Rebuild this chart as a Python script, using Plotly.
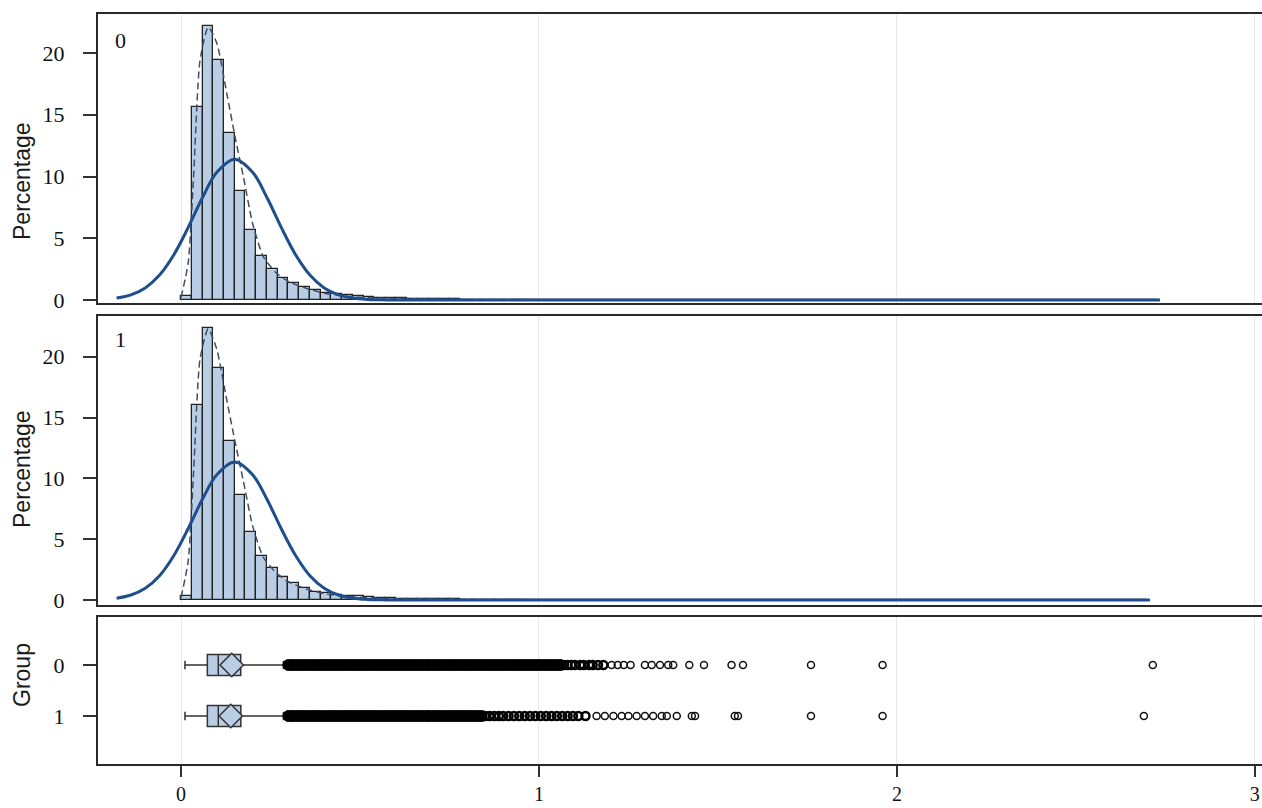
import plotly.graph_objects as go

# ---------------- data ----------------
BIN_START = 0.0
BIN_WIDTH = 0.03
hist_g0 = [0.3, 15.6, 22.2, 19.4, 13.5, 8.8, 5.7, 3.6, 2.5, 1.8, 1.4, 1.05, 0.8, 0.6,
           0.5, 0.4, 0.32, 0.25, 0.2, 0.16, 0.13, 0.1, 0.08, 0.07, 0.06, 0.05, 0.04,
           0.035, 0.03, 0.025, 0.02, 0.02, 0.015, 0.015, 0.01, 0.01, 0.01, 0.008, 0.006,
           0.005, 0.004, 0.003, 0.003, 0.003, 0.002, 0.002, 0.002, 0.002, 0.002, 0.002,
           0.002, 0.002, 0.002, 0.002, 0.002, 0.002, 0.002, 0.002, 0.002, 0.002, 0.002,
           0.002, 0.002, 0.002, 0.002, 0.002, 0.002, 0.002, 0.002, 0.002, 0.002, 0.002,
           0.002, 0.002, 0.002, 0.002, 0.002, 0.002, 0.002, 0.002, 0.002, 0.002, 0.002,
           0.002, 0.002, 0.002, 0.002, 0.002, 0.002, 0.002, 0.002]
hist_g1 = [0.3, 16.0, 22.4, 19.1, 13.1, 8.6, 5.6, 3.6, 2.6, 1.9, 1.4, 1.0, 0.7, 0.55,
           0.45, 0.37, 0.3, 0.24, 0.19, 0.15, 0.12, 0.1, 0.08, 0.07, 0.06, 0.05, 0.04,
           0.035, 0.03, 0.025, 0.02, 0.02, 0.015, 0.015, 0.01, 0.01, 0.01, 0.008, 0.006,
           0.005, 0.004, 0.003, 0.003, 0.003, 0.002, 0.002, 0.002, 0.002, 0.002, 0.002,
           0.002, 0.002, 0.002, 0.002, 0.002, 0.002, 0.002, 0.002, 0.002, 0.002, 0.002,
           0.002, 0.002, 0.002, 0.002, 0.002, 0.002, 0.002, 0.002, 0.002, 0.002, 0.002,
           0.002, 0.002, 0.002, 0.002, 0.002, 0.002, 0.002, 0.002, 0.002, 0.002, 0.002,
           0.002, 0.002, 0.002, 0.002, 0.002, 0.002, 0.002]

# fitted normal curves
normal_x_g0 = [-0.18, -0.14, -0.10, -0.06, -0.02, 0.02, 0.06, 0.10, 0.15, 0.20, 0.24,
               0.28, 0.32, 0.36, 0.40, 0.44, 0.48, 0.52, 0.56, 0.60, 0.70, 1.0, 2.735]
normal_y_g0 = [0.16, 0.42, 0.98, 2.02, 3.67, 5.88, 8.3, 10.34, 11.4, 10.34, 8.3,
               5.88, 3.67, 2.02, 0.98, 0.42, 0.16, 0.05, 0.015, 0.0, 0.0, 0.0, 0.0]
normal_x_g1 = [-0.18, -0.14, -0.10, -0.06, -0.02, 0.02, 0.06, 0.10, 0.15, 0.20, 0.24,
               0.28, 0.32, 0.36, 0.40, 0.44, 0.48, 0.52, 0.56, 0.60, 0.70, 1.0, 2.707]
normal_y_g1 = [0.15, 0.41, 0.97, 2.0, 3.66, 5.88, 8.3, 10.3, 11.35, 10.3, 8.28,
               5.86, 3.66, 2.0, 0.97, 0.41, 0.15, 0.05, 0.015, 0.0, 0.0, 0.0, 0.0]

# kernel density curves (dashed)
kde_x_g0 = [0.0, 0.02, 0.035, 0.053, 0.076, 0.1, 0.128, 0.151, 0.174, 0.2, 0.23,
            0.267, 0.3, 0.35, 0.4, 0.45, 0.5, 0.6, 0.8, 1.0, 1.3, 1.7, 2.0, 2.735]
kde_y_g0 = [0.2, 3.0, 10.0, 19.4, 22.1, 20.8, 16.7, 13.2, 10.0, 6.2, 3.5,
            2.16, 1.5, 0.95, 0.55, 0.35, 0.22, 0.12, 0.05, 0.03, 0.01, 0.005, 0.003, 0.0]
kde_x_g1 = [0.0, 0.02, 0.035, 0.053, 0.076, 0.1, 0.128, 0.151, 0.174, 0.2, 0.23,
            0.267, 0.3, 0.35, 0.4, 0.45, 0.5, 0.6, 0.8, 1.0, 1.3, 1.7, 2.0, 2.707]
kde_y_g1 = [0.2, 3.2, 10.5, 19.8, 22.3, 20.6, 16.4, 13.0, 9.8, 6.1, 3.5,
            2.2, 1.5, 0.9, 0.52, 0.33, 0.21, 0.11, 0.05, 0.03, 0.01, 0.005, 0.003, 0.0]

# box plot statistics per group
groups = [0, 1]
box_lowerfence = [0.011, 0.011]
box_q1 = [0.0735, 0.0735]
box_median = [0.104, 0.104]
box_q3 = [0.1667, 0.167]
box_upperfence = [0.286, 0.286]
box_mean = [0.1416, 0.139]

# outliers (dense run, looser run, isolated points)
out_dense_g0 = [0.30, 0.31, 0.32, 0.33, 0.34, 0.35, 0.36, 0.37, 0.38, 0.39, 0.40, 0.41,
                0.42, 0.43, 0.44, 0.45, 0.46, 0.47, 0.48, 0.49, 0.50, 0.51, 0.52, 0.53,
                0.54, 0.55, 0.56, 0.57, 0.58, 0.59, 0.60, 0.61, 0.62, 0.63, 0.64, 0.65,
                0.66, 0.67, 0.68, 0.69, 0.70, 0.71, 0.72, 0.73, 0.74, 0.75, 0.76, 0.77,
                0.78, 0.79, 0.80, 0.81, 0.82, 0.83, 0.84, 0.85, 0.86, 0.87, 0.88, 0.89,
                0.90, 0.91, 0.92, 0.93, 0.94, 0.95, 0.96, 0.97, 0.98, 0.99, 1.00, 1.01,
                1.02, 1.03, 1.04, 1.05, 1.06]
out_loose_g0 = [1.07, 1.08, 1.09, 1.10, 1.115, 1.125, 1.14, 1.15, 1.165, 1.18]
out_single_g0 = [1.203, 1.22, 1.237, 1.256, 1.296, 1.315, 1.338, 1.361, 1.375, 1.42,
                 1.461, 1.538, 1.57, 1.76, 1.96, 2.715]
out_dense_g1 = [0.30, 0.31, 0.32, 0.33, 0.34, 0.35, 0.36, 0.37, 0.38, 0.39, 0.40, 0.41,
                0.42, 0.43, 0.44, 0.45, 0.46, 0.47, 0.48, 0.49, 0.50, 0.51, 0.52, 0.53,
                0.54, 0.55, 0.56, 0.57, 0.58, 0.59, 0.60, 0.61, 0.62, 0.63, 0.64, 0.65,
                0.66, 0.67, 0.68, 0.69, 0.70, 0.71, 0.72, 0.73, 0.74, 0.75, 0.76, 0.77,
                0.78, 0.79, 0.80, 0.81, 0.82, 0.83, 0.84]
out_loose_g1 = [0.85, 0.862, 0.875, 0.888, 0.90, 0.915, 0.93, 0.945, 0.96, 0.975, 0.99,
                1.005, 1.02, 1.035, 1.05, 1.065, 1.08, 1.095, 1.11, 1.13]
out_single_g1 = [1.161, 1.184, 1.208, 1.231, 1.25, 1.273, 1.296, 1.319, 1.343, 1.357,
                 1.385, 1.427, 1.436, 1.547, 1.556, 1.76, 1.96, 2.69]

x_ticks = [0, 1, 2, 3]
pct_ticks = [0, 5, 10, 15, 20]
panel_labels = ["0", "1"]

# ---------------- styling ----------------
W, H = 1262, 808
BAR_FILL = "#b9cde5"
DARK = "#222222"
NORMAL_C = "#1f4e8c"
KDE_C = "#3d4f6b"
GRID = "#e8e8e8"
FRAME = "#2a2a2a"
TICK_FONT = dict(family="Liberation Serif, serif", size=22, color="#111111")
XTICK_FONT = dict(family="Liberation Serif, serif", size=20, color="#111111")
TITLE_FONT = dict(family="Liberation Sans, Arial, sans-serif", size=23, color="#1a1a1a")

X_RANGE = [-0.232, 3.02]
XDOM = [98 / W, 1.0]


def ydom(top_px, bot_px):
    return [1 - bot_px / H, 1 - top_px / H]


fig = go.Figure()

for i, (hist, nx, ny, kx, ky) in enumerate([
        (hist_g0, normal_x_g0, normal_y_g0, kde_x_g0, kde_y_g0),
        (hist_g1, normal_x_g1, normal_y_g1, kde_x_g1, kde_y_g1)]):
    xa = "x" if i == 0 else "x2"
    ya = "y" if i == 0 else "y2"
    fig.add_trace(go.Bar(x0=BIN_START + BIN_WIDTH / 2, dx=BIN_WIDTH, y=hist, width=BIN_WIDTH,
                         marker=dict(color=BAR_FILL, line=dict(color=DARK, width=1.3)),
                         xaxis=xa, yaxis=ya, showlegend=False, hoverinfo="skip"))
    fig.add_trace(go.Scatter(x=kx, y=ky, mode="lines",
                             line=dict(color=KDE_C, width=1.5, dash="7px,4px", shape="spline",
                                       smoothing=0.6),
                             xaxis=xa, yaxis=ya, showlegend=False, hoverinfo="skip"))
    fig.add_trace(go.Scatter(x=nx, y=ny, mode="lines",
                             line=dict(color=NORMAL_C, width=3, shape="spline", smoothing=1.0),
                             xaxis=xa, yaxis=ya, showlegend=False, hoverinfo="skip"))

# box plots
for g in range(2):
    fig.add_trace(go.Box(orientation="h", y=[groups[g]], q1=[box_q1[g]], median=[box_median[g]],
                         q3=[box_q3[g]], lowerfence=[box_lowerfence[g]],
                         upperfence=[box_upperfence[g]], width=0.41, whiskerwidth=0.4,
                         fillcolor=BAR_FILL, line=dict(color="#333333", width=1.5),
                         boxpoints=False, xaxis="x3", yaxis="y3", showlegend=False,
                         hoverinfo="skip"))

# mean diamonds
fig.add_trace(go.Scatter(x=box_mean, y=groups, mode="markers",
                         marker=dict(symbol="diamond", size=18, color=BAR_FILL,
                                     line=dict(color="#333333", width=1.5)),
                         xaxis="x3", yaxis="y3", showlegend=False, hoverinfo="skip"))

# outliers
for g, (dense, loose, single) in enumerate([(out_dense_g0, out_loose_g0, out_single_g0),
                                            (out_dense_g1, out_loose_g1, out_single_g1)]):
    fig.add_trace(go.Scatter(x=dense, y=[groups[g]] * len(dense), mode="markers",
                             marker=dict(symbol="circle", size=11, color="#000000",
                                         line=dict(width=1, color="#000000")),
                             xaxis="x3", yaxis="y3", showlegend=False, hoverinfo="skip"))
    fig.add_trace(go.Scatter(x=loose, y=[groups[g]] * len(loose), mode="markers",
                             marker=dict(symbol="circle-open", size=8, color="#000000",
                                         line=dict(width=2.5)),
                             xaxis="x3", yaxis="y3", showlegend=False, hoverinfo="skip"))
    fig.add_trace(go.Scatter(x=single, y=[groups[g]] * len(single), mode="markers",
                             marker=dict(symbol="circle-open", size=7, color="#111111",
                                         line=dict(width=1.5)),
                             xaxis="x3", yaxis="y3", showlegend=False, hoverinfo="skip"))

common_x = dict(range=X_RANGE, domain=XDOM, showgrid=True, gridcolor=GRID, gridwidth=1,
                tickvals=x_ticks, zeroline=False, showline=True, mirror=True,
                linecolor=FRAME, linewidth=2, automargin=False)
common_y = dict(showgrid=False, zeroline=False, showline=True, mirror=True,
                linecolor=FRAME, linewidth=2, ticks="outside", ticklen=13, tickwidth=2,
                tickcolor="#333333", tickfont=TICK_FONT, automargin=False,
                ticklabelstandoff=14)

fig.update_layout(
    width=W, height=H,
    margin=dict(l=0, r=0, t=0, b=0),
    paper_bgcolor="white", plot_bgcolor="white",
    bargap=0, barmode="overlay",
    xaxis=dict(**common_x, anchor="y", showticklabels=False, ticks=""),
    xaxis2=dict(**common_x, anchor="y2", showticklabels=False, ticks="", matches="x"),
    xaxis3=dict(**common_x, anchor="y3", ticks="outside", ticklen=11, tickwidth=2,
                tickcolor="#333333", tickfont=XTICK_FONT, ticklabelstandoff=0, matches="x"),
    yaxis=dict(**common_y, domain=ydom(14, 303), range=[-0.243, 23.16], tickvals=pct_ticks,
               anchor="x"),
    yaxis2=dict(**common_y, domain=ydom(316, 605), range=[-0.41, 23.35], tickvals=pct_ticks,
                anchor="x2"),
    yaxis3=dict(**common_y, domain=ydom(617, 764), range=[1.941, -0.941], tickvals=groups,
                ticktext=[str(g) for g in groups], anchor="x3"),
)

# axis titles and panel labels
for text, ypx in [("Percentage", 181), ("Percentage", 469), ("Group", 675)]:
    fig.add_annotation(text=text, xref="paper", yref="paper", x=22 / W, y=1 - ypx / H,
                       xanchor="center", yanchor="middle", textangle=-90, showarrow=False,
                       font=TITLE_FONT)
for text, ypx in [(panel_labels[0], 40), (panel_labels[1], 340)]:
    fig.add_annotation(text=text, xref="paper", yref="paper", x=120 / W, y=1 - ypx / H,
                       xanchor="center", yanchor="middle", showarrow=False, font=TICK_FONT)

fig.write_html("out.html")
